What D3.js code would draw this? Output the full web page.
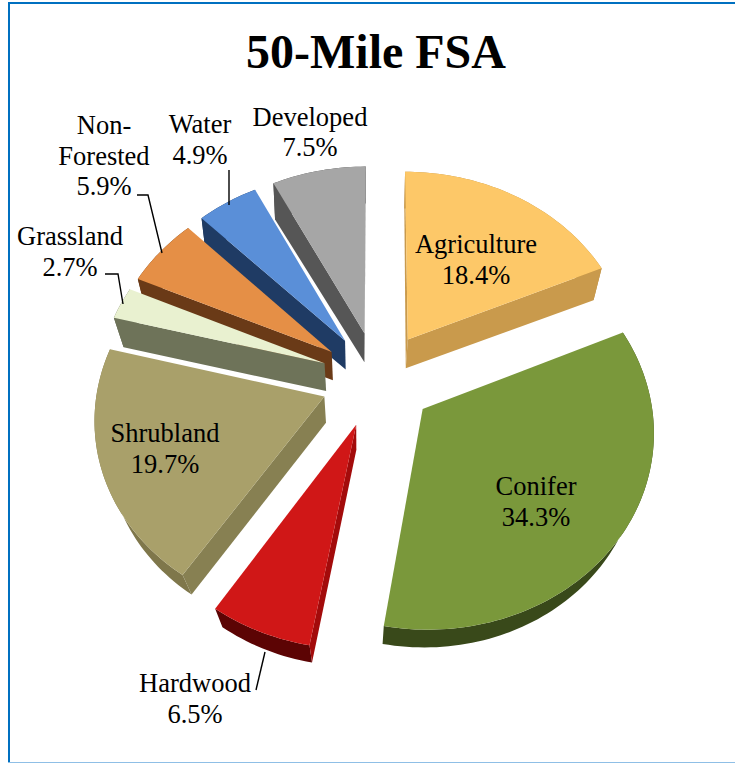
<!DOCTYPE html>
<html>
<head>
<meta charset="utf-8">
<script src="https://cdn.jsdelivr.net/npm/d3@7"></script>
<style>
  html, body { margin: 0; padding: 0; background: #fff; overflow: hidden; }
  svg { display: block; }
  text { font-family: "Liberation Serif", "Times New Roman", serif; fill: #000; }
</style>
</head>
<body>
<script>
// Land cover shares within the 50-mile fibre supply area
const categories = ["Agriculture", "Conifer", "Hardwood", "Shrubland", "Grassland", "Non-Forested", "Water", "Developed"];
const shares = [18.4, 34.3, 6.5, 19.7, 2.7, 5.9, 4.9, 7.5];

const topColors = ["#fdc868", "#7a983b", "#d01717", "#a9a06a", "#e9f1d0", "#e58f46", "#5a8fd8", "#a6a6a6"];
const wallColors = ["#c99a4c", "#5d7530", "#a30b0b", "#878052", "#6e7359", "#6a3a17", "#1f3b64", "#565656"];
const rimColors = ["#b98c42", "#39491a", "#5c0404", "#7f774b", "#5f6450", "#5f3414", "#1b3357", "#4b4b4b"];

// Text blocks: each line is centred on x with its own baseline
const labels = [
  { x: 476, lines: [["Agriculture", 253], ["18.4%", 284]] },
  { x: 536, lines: [["Conifer", 495], ["34.3%", 526]] },
  { x: 195, lines: [["Hardwood", 692], ["6.5%", 723]] },
  { x: 165, lines: [["Shrubland", 442], ["19.7%", 473]] },
  { x: 70, lines: [["Grassland", 245], ["2.7%", 276]] },
  { x: 104, lines: [["Non-", 134], ["Forested", 165], ["5.9%", 195]] },
  { x: 200, lines: [["Water", 133], ["4.9%", 164]] },
  { x: 310, lines: [["Developed", 126], ["7.5%", 156]] }
];
const leaders = [
  [[265, 652], [256, 690]],
  [[105, 274], [118, 274], [123, 304]],
  [[137, 195], [148, 195], [162, 253]],
  [[229, 170], [229, 205]]
];

const width = 735, height = 763;

// Camera for the tilted pie: plane units are pie radii
const view = { cx: 377.5, cy: 379, radius: 226, tilt: 0.85, persp: 0.1, explode: 0.25, depth: 27, depthFar: 8, vanishX: 360, vanishRate: 600, vanishFar: 0.6 };

function project(u, v, lower) {
  const s = 1 / (1 + view.persp * v);
  let x = view.cx + u * view.radius * s;
  let y = view.cy - v * view.radius * view.tilt * s;
  if (lower) {
    const d = view.depth + view.depthFar * v;
    x += (view.vanishX - x) * d / view.vanishRate * (1 - view.vanishFar * v);
    y += d;
  }
  return [x, y];
}

const svg = d3.select("body").append("svg").attr("width", width).attr("height", height);

// Frame lines
const frame = svg.append("g");
frame.append("rect").attr("x", 8).attr("y", 2).attr("width", 2).attr("height", 761).attr("fill", "#0070c0");
frame.append("rect").attr("x", 8).attr("y", 2).attr("width", 727).attr("height", 2).attr("fill", "#0070c0");
frame.append("rect").attr("x", 8).attr("y", 762).attr("width", 727).attr("height", 1).attr("fill", "#8fbfe6");

const pie = d3.pie().sort(null).value(d => d);
const arcs = pie(shares).map((a, i) => {
  const mid = (a.startAngle + a.endAngle) / 2;
  const ou = view.explode * Math.sin(mid), ov = view.explode * Math.cos(mid);
  const steps = Math.max(4, Math.ceil((a.endAngle - a.startAngle) * 40));
  const thetas = d3.range(steps + 1).map(k => a.startAngle + (a.endAngle - a.startAngle) * k / steps);
  return { i, ou, ov, thetas, mid };
});

const line = d3.line();
const closed = pts => line(pts) + "Z";

// A side wall shows only when dropping the edge moves it away from the slice interior
function wallFaces(apex, rim, inside) {
  const ex = rim[0] - apex[0], ey = rim[1] - apex[1];
  const toInside = ex * (inside[1] - apex[1]) - ey * (inside[0] - apex[0]);
  const toDown = ex;
  return toInside * toDown < 0;
}

// Far slices first so nearer ones paint over them
arcs.sort((a, b) => b.ov - a.ov);

const slices = svg.append("g").selectAll("g").data(arcs).join("g");

slices.each(function (d) {
  const g = d3.select(this);
  const rimPoint = (t, low) => project(d.ou + Math.sin(t), d.ov + Math.cos(t), low);
  const apexT = project(d.ou, d.ov, false), apexB = project(d.ou, d.ov, true);
  const first = d.thetas[0], last = d.thetas[d.thetas.length - 1];
  const inside = rimPoint(d.mid, false);

  const upper = d.thetas.map(t => rimPoint(t, false));
  const lower = d.thetas.map(t => rimPoint(t, true)).reverse();
  g.append("path").attr("fill", rimColors[d.i]).attr("d", closed(upper.concat(lower)));

  [first, last].forEach(t => {
    const rimTop = rimPoint(t, false);
    if (wallFaces(apexT, rimTop, inside)) {
      g.append("path").attr("fill", wallColors[d.i])
        .attr("d", closed([apexT, rimTop, rimPoint(t, true), apexB]));
    }
  });

  g.append("path").attr("fill", topColors[d.i])
    .attr("d", closed([apexT].concat(upper)));
});

// Leader lines
svg.append("g").selectAll("path").data(leaders).join("path")
  .attr("d", line).attr("fill", "none").attr("stroke", "#000").attr("stroke-width", 1.4);

// Title and category labels
svg.append("text").attr("x", 376).attr("y", 68).attr("text-anchor", "middle")
  .attr("font-size", 48).attr("font-weight", "bold").text("50-Mile FSA");

const blocks = svg.append("g").selectAll("g").data(labels).join("g");
blocks.selectAll("text").data(d => d.lines.map(l => ({ x: d.x, s: l[0], y: l[1] }))).join("text")
  .attr("x", d => d.x).attr("y", d => d.y).attr("text-anchor", "middle")
  .attr("font-size", 26.5).text(d => d.s);
</script>
</body>
</html>
